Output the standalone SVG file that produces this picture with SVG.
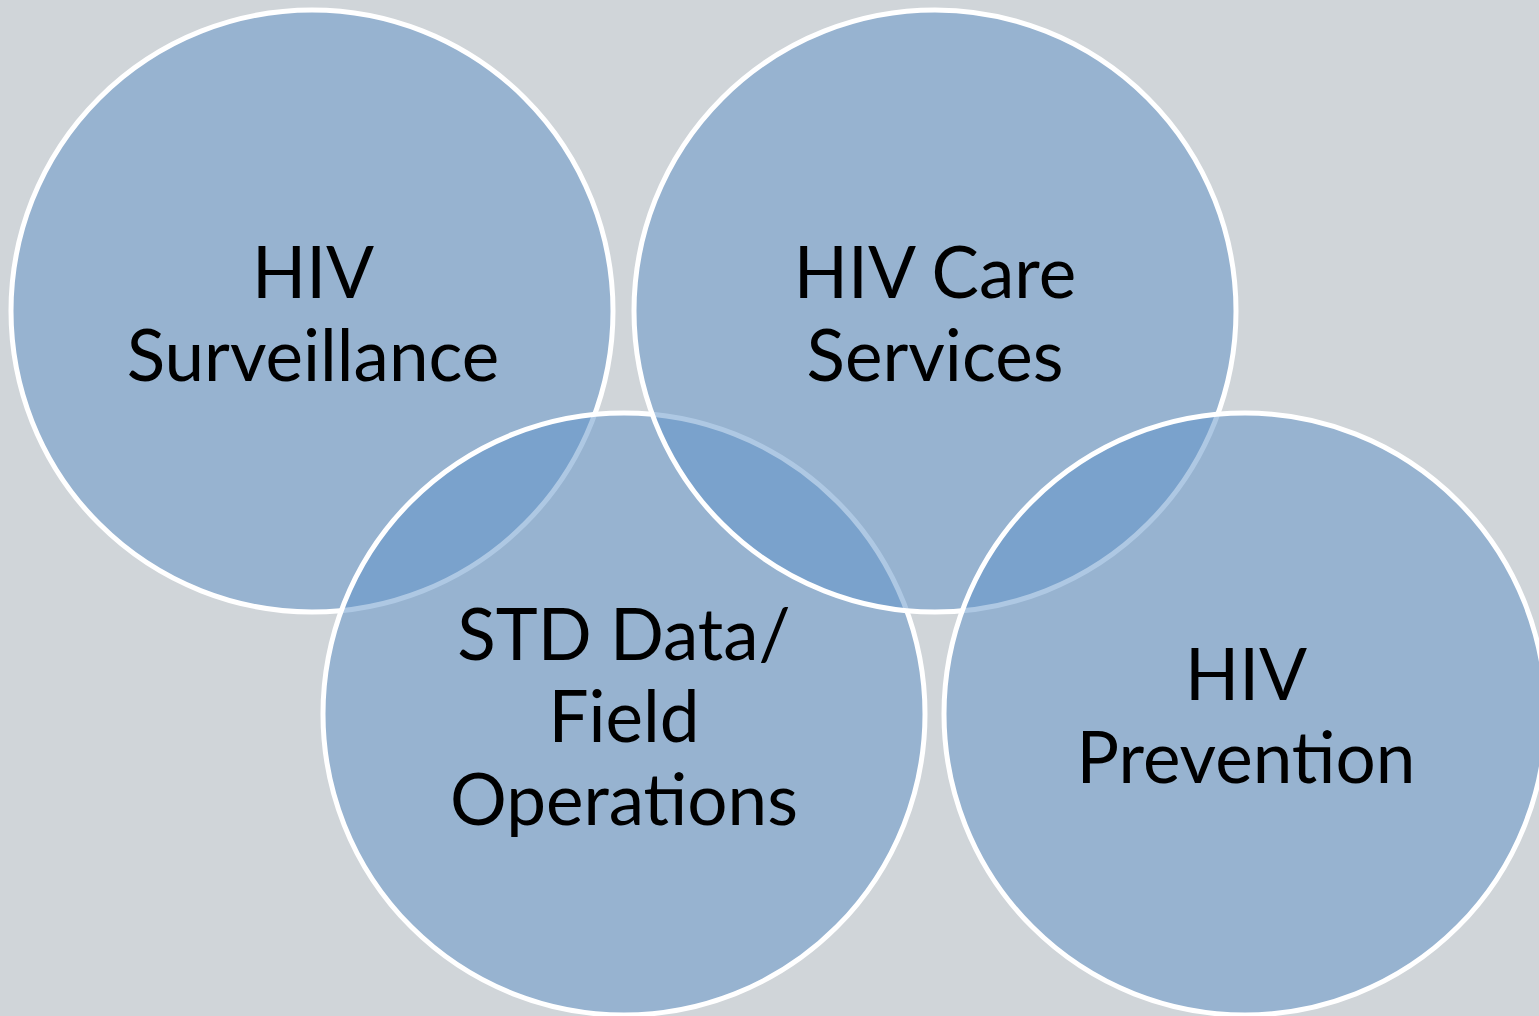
<svg xmlns="http://www.w3.org/2000/svg" width="1539" height="1016" viewBox="0 0 1539 1016">
<style>
.c{fill:#5E91C7;fill-opacity:0.5;stroke:#FFFFFF;stroke-width:5}
.t{font-family:Lato,"Open Sans","Liberation Sans",sans-serif;font-size:71px;fill:#000;text-anchor:middle}
</style>
<rect x="0" y="0" width="1539" height="1016" fill="#D0D5D9"/>
<g id="hiv-surveillance">
<circle class="c" cx="312" cy="311" r="301"/>
<text class="t" x="313" y="298">HIV</text>
<text class="t" x="313" y="381">Surveillance</text>
</g>
<g id="std-data">
<circle class="c" cx="624" cy="714" r="301"/>
<text class="t" x="624" y="660">STD Data/</text>
<text class="t" x="624" y="742">Field</text>
<text class="t" x="624" y="825">Operations</text>
</g>
<g id="hiv-care">
<circle class="c" cx="935" cy="311" r="301"/>
<text class="t" x="935" y="298">HIV Care</text>
<text class="t" x="935" y="381">Services</text>
</g>
<g id="hiv-prevention">
<circle class="c" cx="1245" cy="714" r="301"/>
<text class="t" x="1246" y="700">HIV</text>
<text class="t" x="1246" y="783">Prevention</text>
</g>
<g id="connectors"></g>
</svg>
